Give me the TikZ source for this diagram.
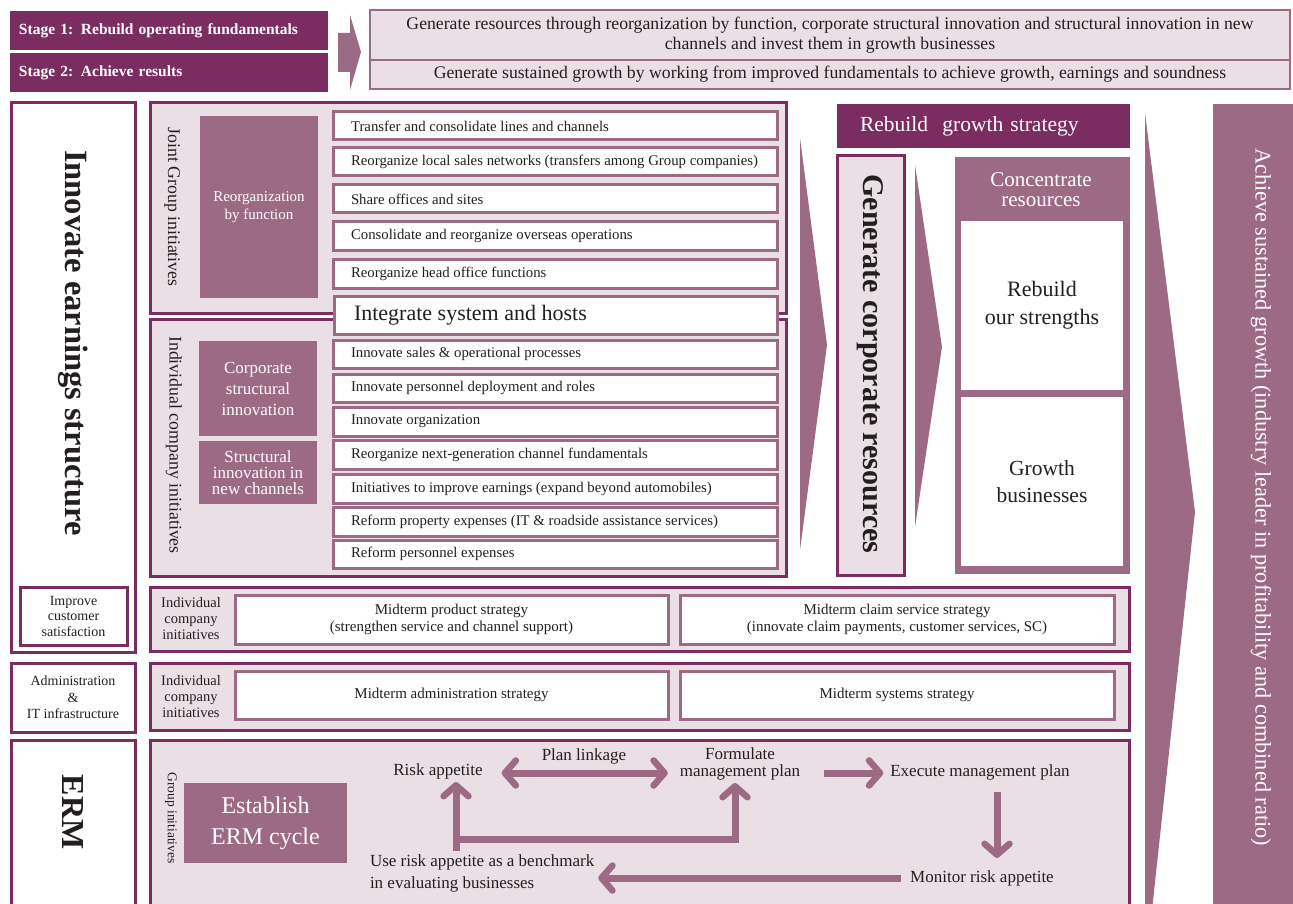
\documentclass[tikz,border=0pt]{standalone}
\usepackage{fontspec}
\setmainfont{Liberation Serif}
\usetikzlibrary{arrows.meta,calc}
\definecolor{plum}{HTML}{7B2D62}
\definecolor{mauve}{HTML}{9C6A84}
\definecolor{blush}{HTML}{EADFE5}
\definecolor{ink}{HTML}{231F20}
\newcommand{\fsz}[2]{\fontsize{#1}{#2}\selectfont}
\newcommand{\lft}[1]{\makebox[408pt][l]{#1}}
% \placebox{name}{style}{x1}{y1}{x2}{y2}{text}: a node spanning the given corners
\newcommand{\placebox}[7]{%
  \pgfmathsetmacro\pbw{#5-#3}\pgfmathsetmacro\pbh{#6-#4}%
  \node[#2, anchor=north west, minimum width=\pbw pt, minimum height=\pbh pt] (#1) at (#3,#4) {#7};}
\tikzset{
  ermtip/.tip={Straight Barb[length=11pt,width=25pt,line width=6.5pt,round]},
}
\begin{document}
\begin{tikzpicture}[x=1pt,y=-1pt,
  every node/.style={text=ink, inner sep=0pt, outer sep=0pt},
  stagebox/.style={fill=plum, text=white, font=\bfseries\fsz{15.5}{18}, align=left, text width=300pt, inner xsep=9pt},
  goalbox/.style={fill=blush, draw=mauve, line width=2pt, align=center, font=\fsz{17.7}{20}},
  sidebox/.style={fill=white, draw=plum, line width=3pt, align=center},
  zonebox/.style={fill=blush, draw=plum, line width=3pt},
  tagbox/.style={fill=mauve, text=white, align=center},
  itembox/.style={fill=white, draw=mauve, line width=3pt, align=left, inner xsep=18pt, font=\fsz{14.8}{17}},
  wideitem/.style={fill=white, draw=mauve, line width=3pt, align=center, font=\fsz{15}{16.5}},
  vlabel/.style={rotate=-90, font=\fsz{17.8}{19}},
  headline/.style={rotate=-90, font=\bfseries\fsz{31}{33}},
  rowlabel/.style={align=center, font=\fsz{14.5}{16}},
  ermtext/.style={font=\fsz{17}{16.5}, align=center},
  ermline/.style={draw=mauve, line width=7pt},
  chevron/.style={fill=mauve},
]
\useasboundingbox (0,0) rectangle (1293,904);
\clip (0,0) rectangle (1293,904);

% ---------- stages and their goals ----------
\placebox{stage1}{stagebox}{10}{11}{328}{50}{Stage 1: Rebuild operating fundamentals}
\placebox{stage2}{stagebox}{10}{53}{328}{92}{Stage 2: Achieve results}
\fill[chevron] (338,33) -- (350,33) -- (350,15) -- (361,52) -- (350,90) -- (350,72) -- (338,72) -- cycle;
\placebox{goal1}{goalbox}{370}{10}{1290}{60}{Generate resources through reorganization by function, corporate structural innovation and structural innovation in new\\channels and invest them in growth businesses}
\placebox{goal2}{goalbox}{370}{60}{1290}{89}{Generate sustained growth by working from improved fundamentals to achieve growth, earnings and soundness}

% ---------- left column ----------
\placebox{innovframe}{sidebox}{11}{103}{135}{652}{}
\node[headline, font=\bfseries\fsz{32.5}{34}] (innovtxt) at (73,343) {Innovate earnings structure};
\placebox{csat}{sidebox, font=\fsz{14}{15.5}}{20}{587}{127}{645}{Improve\\customer\\satisfaction}
\placebox{admin}{sidebox, font=\fsz{14}{16.5}}{11}{663}{135}{732}{Administration\\\&\\IT infrastructure}
\placebox{ermframe}{sidebox}{11}{740}{135}{920}{}
\node[headline, font=\bfseries\fsz{32}{34}] (ermtxt) at (73,812) {ERM};

% ---------- joint group initiatives ----------
\placebox{joint}{zonebox}{150}{103}{786}{313}{}
\node[vlabel] (jointlbl) at (172,207) {Joint Group initiatives};
\placebox{reorg}{tagbox, font=\fsz{15}{18}}{200}{116}{318}{298}{Reorganization\\by function}
\placebox{j1}{itembox}{333}{112}{777}{140}{\lft{Transfer and consolidate lines and channels}}
\placebox{j2}{itembox}{333}{148}{777}{176}{\lft{Reorganize local sales networks (transfers among Group companies)}}
\placebox{j3}{itembox}{333}{185}{777}{213}{\lft{Share offices and sites}}
\placebox{j4}{itembox}{333}{222}{777}{250}{\lft{Consolidate and reorganize overseas operations}}
\placebox{j5}{itembox}{333}{259}{777}{288}{\lft{Reorganize head office functions}}

% ---------- individual company initiatives ----------
\placebox{indiv}{zonebox}{150}{319}{786}{576}{}
\node[vlabel] (indivlbl) at (174,445) {Individual company initiatives};
\placebox{corp}{tagbox, font=\fsz{17}{21}}{199}{341}{317}{436}{Corporate\\structural\\innovation}
\placebox{newch}{tagbox, font=\fsz{17}{16}}{199}{441}{317}{504}{Structural\\innovation in\\new channels}
\placebox{i1}{itembox}{333}{340}{777}{368}{\lft{Innovate sales \& operational processes}}
\placebox{i2}{itembox}{333}{374}{777}{402}{\lft{Innovate personnel deployment and roles}}
\placebox{i3}{itembox}{333}{407}{777}{436}{\lft{Innovate organization}}
\placebox{i4}{itembox}{333}{440}{777}{469}{\lft{Reorganize next-generation channel fundamentals}}
\placebox{i5}{itembox}{333}{474}{777}{503}{\lft{Initiatives to improve earnings (expand beyond automobiles)}}
\placebox{i6}{itembox}{333}{507}{777}{536}{\lft{Reform property expenses (IT \& roadside assistance services)}}
\placebox{i7}{itembox}{333}{540}{777}{568}{\lft{Reform personnel expenses}}
\placebox{integ}{itembox, font=\fsz{22}{24}, inner xsep=20pt}{334}{296}{777}{334}{\makebox[403pt][l]{Integrate system and hosts}}

% ---------- resources and growth ----------
\fill[chevron] (800,138) -- (827,345) -- (800,550) -- cycle;
\placebox{rebuild}{fill=plum, text=white, font=\fsz{21.5}{24}, align=left, text width=247pt, inner xsep=23pt}{837}{104}{1130}{148}{Rebuild~ growth strategy}
\placebox{genframe}{zonebox}{837}{156}{904}{575}{}
\node[headline, font=\bfseries\fsz{30}{32}] (gentxt) at (870,364) {Generate corporate resources};
\fill[chevron] (915,165) -- (942,347) -- (915,527) -- cycle;
\placebox{conc}{fill=mauve}{955}{157}{1130}{574}{}
\node[text=white, align=center, font=\fsz{21}{20}] (conctxt) at (1041,190) {Concentrate\\resources};
\placebox{strength}{fill=white, align=center, font=\fsz{22}{28}}{961}{221}{1123}{390}{Rebuild\\our strengths}
\placebox{growth}{fill=white, align=center, font=\fsz{21.5}{27}}{961}{397}{1123}{566}{Growth\\businesses}
\fill[chevron] (1145,113) -- (1195,512) -- (1152,910) -- (1145,910) -- cycle;
\placebox{achieve}{fill=mauve}{1213}{104}{1295}{910}{}
\node[rotate=-90, text=white, font=\fsz{22.3}{24}] (achtxt) at (1261,497) {Achieve sustained growth (industry leader in profitability and combined ratio)};

% ---------- customer satisfaction and infrastructure rows ----------
\placebox{csatrow}{zonebox}{150}{587}{1129}{651}{}
\node[rowlabel] (csatlbl) at (191,619) {Individual\\company\\initiatives};
\placebox{prod}{wideitem}{235}{595}{668}{644}{Midterm product strategy\\(strengthen service and channel support)}
\placebox{claim}{wideitem}{680}{595}{1114}{644}{Midterm claim service strategy\\(innovate claim payments, customer services, SC)}
\placebox{adminrow}{zonebox}{150}{663}{1129}{730}{}
\node[rowlabel] (adminlbl) at (191,697) {Individual\\company\\initiatives};
\placebox{adm}{wideitem}{235}{671}{668}{719}{Midterm administration strategy}
\placebox{sys}{wideitem}{680}{671}{1114}{719}{Midterm systems strategy}

% ---------- ERM cycle ----------
\placebox{ermrow}{zonebox}{150}{740}{1129}{920}{}
\node[rotate=-90, font=\fsz{13.5}{15}] (grouplbl) at (171,818) {Group initiatives};
\placebox{establish}{tagbox, font=\fsz{24}{31}}{184}{783}{347}{863}{Establish\\ERM cycle}
\node[ermtext] (risk) at (438,771) {Risk appetite};
\node[ermtext] (plan) at (584,756) {Plan linkage};
\node[ermtext] (form) at (740,764) {Formulate\\management plan};
\node[ermtext] (exec) at (980,772) {Execute management plan};
\node[ermtext] (mon) at (982,878) {Monitor risk appetite};
\node[ermtext, align=left, font=\fsz{17}{22}, anchor=west] (use) at (370,873) {Use risk appetite as a benchmark\\in evaluating businesses};
\coordinate (loopfoot) at (456,851);
\coordinate (loopknee) at (735,839);

\draw[ermline, ermtip-ermtip] ($(risk.east)+(19,2)$) -- ($(form.west |- risk.east)+(-12,2)$);
\draw[ermline, -ermtip] ($(form.center |- exec.center)+(84,1)$) -- ($(exec.west)+(-7,1)$);
\draw[ermline, -ermtip] ($(exec.center)+(17,20)$) -- ($(exec.center |- mon.center)+(17,-20)$);
\draw[ermline, -ermtip] ($(mon.west)+(-9,0)$) -- ($(use.east |- mon.west)+(4,0)$);
\draw[ermline, -ermtip] (loopfoot) -- ($(loopfoot |- risk.center)+(0,11)$);
\draw[ermline, -ermtip] ($(loopfoot |- loopknee)+(-3.5,0)$) -- (loopknee) -- ($(loopknee |- form.center)+(0,19)$);
\end{tikzpicture}
\end{document}
